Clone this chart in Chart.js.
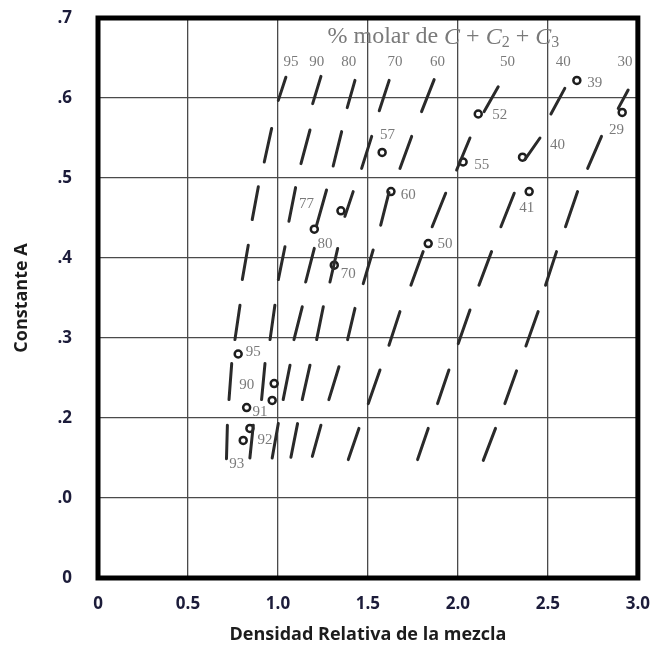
<!DOCTYPE html>
<html lang="es">
<head>
<meta charset="UTF-8">
<title>Constante A</title>
<script src="https://cdn.jsdelivr.net/npm/chart.js"></script>
<style>
  body { margin: 0; background: #fff; }
  #chart { display: block; }
</style>
</head>
<body>
<canvas id="chart" width="666" height="650"></canvas>
<script>
// tick labels as printed on the original (the .1 line really says ".0")
const xTickLabels = ['0', '0.5', '1.0', '1.5', '2.0', '2.5', '3.0'];
const yTickLabels = ['0', '.0', '.2', '.3', '.4', '.5', '.6', '.7'];

// short slanted marks: [x bottom, y bottom, x top, y top], one row at a time from the top
const segments = [
  [1.002, 0.597, 1.044, 0.626], [1.193, 0.593, 1.239, 0.627], [1.385, 0.588, 1.428, 0.622], [1.563, 0.584, 1.618, 0.622],
  [1.798, 0.583, 1.868, 0.623], [2.146, 0.583, 2.224, 0.614], [2.517, 0.580, 2.594, 0.612], [2.891, 0.587, 2.946, 0.610],

  [0.924, 0.520, 0.965, 0.562], [1.128, 0.518, 1.178, 0.560], [1.307, 0.515, 1.354, 0.558], [1.465, 0.512, 1.521, 0.552],
  [1.678, 0.512, 1.743, 0.552], [1.993, 0.510, 2.067, 0.550], [2.372, 0.523, 2.456, 0.550], [2.721, 0.512, 2.798, 0.552],

  [0.857, 0.448, 0.891, 0.489], [1.061, 0.446, 1.098, 0.488], [1.215, 0.441, 1.270, 0.485], [1.372, 0.452, 1.418, 0.483],
  [1.571, 0.441, 1.617, 0.482], [1.857, 0.439, 1.932, 0.481], [2.239, 0.439, 2.313, 0.481], [2.598, 0.439, 2.665, 0.483],

  [0.802, 0.373, 0.835, 0.416], [1.002, 0.373, 1.039, 0.414], [1.154, 0.370, 1.202, 0.412], [1.289, 0.370, 1.332, 0.412],
  [1.474, 0.368, 1.529, 0.410], [1.739, 0.366, 1.807, 0.408], [2.117, 0.366, 2.187, 0.408], [2.487, 0.366, 2.548, 0.408],

  [0.761, 0.298, 0.789, 0.341], [0.956, 0.298, 0.983, 0.341], [1.089, 0.298, 1.135, 0.339], [1.215, 0.298, 1.252, 0.339],
  [1.387, 0.298, 1.428, 0.337], [1.617, 0.291, 1.678, 0.333], [2.002, 0.293, 2.067, 0.335], [2.378, 0.290, 2.446, 0.333],

  [0.728, 0.223, 0.743, 0.268], [0.909, 0.223, 0.928, 0.268], [1.029, 0.223, 1.067, 0.266], [1.135, 0.223, 1.178, 0.266],
  [1.283, 0.223, 1.339, 0.264], [1.502, 0.218, 1.567, 0.260], [1.887, 0.218, 1.950, 0.260], [2.261, 0.218, 2.326, 0.259],

  [0.714, 0.149, 0.719, 0.191], [0.844, 0.150, 0.863, 0.191], [0.968, 0.150, 1.002, 0.193], [1.072, 0.151, 1.109, 0.193],
  [1.191, 0.152, 1.239, 0.191], [1.391, 0.148, 1.450, 0.187], [1.776, 0.148, 1.835, 0.187], [2.141, 0.147, 2.209, 0.187]
];

// measured gases (small circles)
const circles = [
  [2.661, 0.622], [2.113, 0.580], [2.913, 0.582], [1.579, 0.532], [2.029, 0.520], [2.359, 0.526],
  [1.628, 0.483], [1.350, 0.459], [2.396, 0.483], [1.202, 0.436], [1.835, 0.418], [1.313, 0.391],
  [0.779, 0.280], [0.979, 0.243], [0.968, 0.222], [0.826, 0.213], [0.844, 0.187], [0.807, 0.172]
];

// numbers printed beside the circles and marks: [x, y, text]
const pointLabels = [
  [2.761, 0.619, '39'], [2.233, 0.579, '52'], [2.882, 0.560, '29'], [1.609, 0.554, '57'],
  [2.132, 0.516, '55'], [1.724, 0.479, '60'], [2.382, 0.462, '41'], [1.261, 0.418, '80'],
  [1.928, 0.418, '50'], [1.391, 0.380, '70'], [0.863, 0.283, '95'], [0.900, 0.208, '91'],
  [0.928, 0.173, '92'], [1.159, 0.468, '77'], [0.826, 0.241, '90'], [0.771, 0.143, '93'],
  [2.554, 0.541, '40']
];

// % molar column headers above the top row
const headerY = 0.645;
const headerX = [1.072, 1.215, 1.394, 1.650, 1.887, 2.276, 2.585, 2.928];
const headerText = ['95', '90', '80', '70', '60', '50', '40', '30'];

// chemistry caption inside the plot
const captionAt = [1.919, 0.676];
const captionParts = [
  { t: '% molar de ' }, { t: 'C', it: true }, { t: ' + ' }, { t: 'C', it: true }, { t: '2', sub: true },
  { t: ' + ' }, { t: 'C', it: true }, { t: '3', sub: true }
];

const segData = [];
segments.forEach(s => {
  segData.push({ x: s[0], y: s[1] }, { x: s[2], y: s[3] }, { x: s[2], y: null });
});

const serif = '"Liberation Serif", "DejaVu Serif", serif';
const sans = '"Open Sans", "Liberation Sans", sans-serif';

const notes = {
  id: 'notes',
  afterDatasetsDraw(chart) {
    const { ctx, scales: { x, y } } = chart;
    ctx.save();
    ctx.fillStyle = '#7a7a7a';
    ctx.textAlign = 'center';
    ctx.textBaseline = 'middle';
    ctx.font = '15px ' + serif;
    pointLabels.forEach(([vx, vy, t]) => ctx.fillText(t, x.getPixelForValue(vx), y.getPixelForValue(vy)));
    headerX.forEach((vx, i) => ctx.fillText(headerText[i], x.getPixelForValue(vx), y.getPixelForValue(headerY)));

    // caption with italic C and subscripts
    const big = '24px ' + serif, ital = 'italic 24px ' + serif, small = '16px ' + serif;
    const fontOf = p => p.sub ? small : (p.it ? ital : big);
    let w = 0;
    captionParts.forEach(p => { ctx.font = fontOf(p); w += ctx.measureText(p.t).width; });
    let px = x.getPixelForValue(captionAt[0]) - w / 2;
    const py = y.getPixelForValue(captionAt[1]);
    ctx.textAlign = 'left';
    captionParts.forEach(p => {
      ctx.font = fontOf(p);
      ctx.fillText(p.t, px, p.sub ? py + 6 : py);
      px += ctx.measureText(p.t).width;
    });
    ctx.restore();
  },
  afterDraw(chart) {
    const { ctx, chartArea: a } = chart;
    ctx.save();
    ctx.strokeStyle = '#000';
    ctx.lineWidth = 5;
    ctx.strokeRect(a.left, a.top, a.right - a.left, a.bottom - a.top);
    ctx.restore();
  }
};

const labelFont = { family: sans, size: 17, weight: 'bold' };

new Chart(document.getElementById('chart'), {
  type: 'scatter',
  data: {
    datasets: [
      {
        label: 'marcas',
        data: segData,
        showLine: true,
        spanGaps: false,
        borderColor: '#2a2a2a',
        borderWidth: 3,
        borderCapStyle: 'round',
        pointRadius: 0,
        pointHoverRadius: 0
      },
      {
        label: 'gases',
        data: circles.map(c => ({ x: c[0], y: c[1] })),
        pointRadius: 3.5,
        pointBorderWidth: 2.5,
        pointBorderColor: '#1e1e1e',
        pointBackgroundColor: '#fff'
      }
    ]
  },
  options: {
    responsive: false,
    animation: false,
    layout: { padding: { left: 0, right: 28, top: 18, bottom: 0 } },
    plugins: { legend: { display: false }, tooltip: { enabled: false } },
    scales: {
      x: {
        min: 0, max: 3,
        ticks: {
          stepSize: 0.5,
          color: '#1c1c3a',
          font: labelFont,
          padding: 16,
          maxRotation: 0,
          callback: (v, i) => xTickLabels[i]
        },
        grid: { color: '#4a4a4a', lineWidth: 1.3, drawTicks: false },
        border: { display: false },
        title: {
          display: true,
          text: 'Densidad Relativa de la mezcla',
          color: '#1c1c1c',
          font: { family: sans, size: 18, weight: 'bold' },
          padding: { top: 0, bottom: 4 }
        },
        afterFit: s => { s.height = 72; }
      },
      y: {
        min: 0, max: 0.7,
        ticks: {
          stepSize: 0.1,
          color: '#1c1c3a',
          font: labelFont,
          padding: 26,
          callback: (v, i) => yTickLabels[i]
        },
        grid: { color: '#4a4a4a', lineWidth: 1.3, drawTicks: false },
        border: { display: false },
        title: {
          display: true,
          text: 'Constante A',
          color: '#1c1c1c',
          font: { family: sans, size: 18, weight: 'bold' },
          padding: { top: 11, bottom: 0 }
        },
        afterFit: s => { s.width = 98; s.paddingTop = 10; s.paddingBottom = 10; }
      }
    }
  },
  plugins: [notes]
});
</script>
</body>
</html>
